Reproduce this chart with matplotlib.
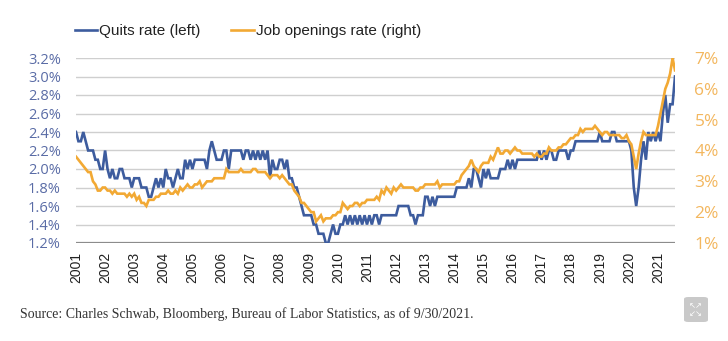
import numpy as np
import matplotlib.pyplot as plt
from matplotlib.patches import FancyBboxPatch


# --------------------------------------------------
# Data (monthly, Jan 2001 - Aug 2021)
# --------------------------------------------------

quits_rate = [
    2.4, 2.3, 2.3, 2.4, 2.3, 2.2, 2.2, 2.2, 2.1, 2.1, 2.0, 2.0,  # 2001
    2.2, 2.0, 1.9, 2.0, 1.9, 1.9, 2.0, 2.0, 1.9, 1.9, 1.9, 1.8,  # 2002
    1.9, 1.9, 1.9, 1.8, 1.8, 1.8, 1.7, 1.7, 1.8, 1.9, 1.8, 1.9,  # 2003
    1.8, 2.0, 1.9, 1.9, 1.8, 1.9, 2.0, 1.9, 1.9, 2.1, 2.0, 2.1,  # 2004
    2.0, 2.1, 2.1, 2.1, 2.1, 2.1, 2.0, 2.2, 2.3, 2.2, 2.1, 2.1,  # 2005
    2.1, 2.2, 2.2, 2.0, 2.2, 2.2, 2.2, 2.2, 2.2, 2.1, 2.2, 2.2,  # 2006
    2.1, 2.2, 2.1, 2.2, 2.1, 2.2, 2.1, 2.2, 1.9, 2.1, 2.0, 2.0,  # 2007
    2.1, 2.1, 2.0, 2.1, 1.9, 1.9, 1.8, 1.8, 1.7, 1.6, 1.5, 1.5,  # 2008
    1.5, 1.5, 1.4, 1.4, 1.3, 1.3, 1.3, 1.2, 1.2, 1.3, 1.4, 1.3,  # 2009
    1.3, 1.4, 1.4, 1.5, 1.4, 1.5, 1.4, 1.5, 1.4, 1.5, 1.4, 1.5,  # 2010
    1.4, 1.5, 1.4, 1.5, 1.5, 1.4, 1.5, 1.5, 1.5, 1.5, 1.5, 1.5,  # 2011
    1.5, 1.6, 1.6, 1.6, 1.6, 1.6, 1.5, 1.5, 1.4, 1.5, 1.5, 1.5,  # 2012
    1.7, 1.7, 1.6, 1.7, 1.6, 1.7, 1.7, 1.7, 1.7, 1.7, 1.7, 1.7,  # 2013
    1.7, 1.8, 1.8, 1.8, 1.8, 1.8, 1.9, 1.8, 2.0, 2.0, 1.9, 1.8,  # 2014
    2.0, 1.9, 2.0, 1.9, 1.9, 1.9, 1.9, 2.0, 2.0, 2.0, 2.1, 2.0,  # 2015
    2.1, 2.0, 2.1, 2.1, 2.1, 2.1, 2.1, 2.1, 2.1, 2.1, 2.1, 2.2,  # 2016
    2.1, 2.2, 2.1, 2.2, 2.2, 2.1, 2.1, 2.2, 2.2, 2.2, 2.2, 2.1,  # 2017
    2.2, 2.2, 2.3, 2.3, 2.3, 2.3, 2.3, 2.3, 2.3, 2.3, 2.3, 2.3,  # 2018
    2.4, 2.3, 2.3, 2.3, 2.3, 2.4, 2.4, 2.3, 2.3, 2.3, 2.3, 2.3,  # 2019
    2.3, 2.2, 1.8, 1.6, 1.8, 2.1, 2.3, 2.1, 2.4, 2.3, 2.4, 2.3,  # 2020
    2.4, 2.3, 2.6, 2.8, 2.5, 2.7, 2.7, 3.0,                      # 2021
]

openings_rate = [
    3.8, 3.7, 3.6, 3.5, 3.4, 3.3, 3.3, 3.0, 2.9, 2.7, 2.7, 2.8,  # 2001
    2.8, 2.7, 2.7, 2.6, 2.7, 2.6, 2.6, 2.6, 2.6, 2.5, 2.6, 2.5,  # 2002
    2.6, 2.4, 2.5, 2.3, 2.3, 2.2, 2.4, 2.4, 2.4, 2.5, 2.5, 2.6,  # 2003
    2.6, 2.6, 2.7, 2.6, 2.6, 2.7, 2.6, 2.8, 2.7, 2.8, 2.9, 2.8,  # 2004
    2.8, 2.9, 2.9, 3.0, 2.8, 2.9, 3.0, 3.0, 3.0, 3.1, 3.1, 3.1,  # 2005
    3.1, 3.1, 3.4, 3.3, 3.3, 3.3, 3.3, 3.3, 3.4, 3.3, 3.3, 3.3,  # 2006
    3.3, 3.4, 3.4, 3.3, 3.3, 3.3, 3.3, 3.2, 3.1, 3.2, 3.2, 3.2,  # 2007
    3.1, 3.2, 3.1, 3.0, 2.9, 2.9, 2.7, 2.6, 2.5, 2.3, 2.3, 2.2,  # 2008
    2.1, 2.0, 2.0, 1.7, 1.8, 1.9, 1.7, 1.8, 1.8, 1.8, 1.9, 1.9,  # 2009
    2.0, 2.0, 2.3, 2.2, 2.1, 2.2, 2.2, 2.3, 2.3, 2.2, 2.3, 2.3,  # 2010
    2.4, 2.4, 2.4, 2.4, 2.5, 2.4, 2.7, 2.6, 2.8, 2.7, 2.6, 2.8,  # 2011
    2.7, 2.8, 2.9, 2.8, 2.8, 2.8, 2.8, 2.8, 2.7, 2.7, 2.8, 2.8,  # 2012
    2.9, 2.9, 2.9, 2.9, 2.9, 3.0, 2.8, 2.9, 2.9, 2.9, 2.9, 2.9,  # 2013
    2.9, 3.0, 3.0, 3.2, 3.3, 3.4, 3.5, 3.7, 3.5, 3.4, 3.3, 3.5,  # 2014
    3.6, 3.6, 3.6, 3.8, 3.7, 3.9, 4.1, 3.9, 3.9, 4.0, 4.0, 3.9,  # 2015
    4.0, 4.1, 4.0, 4.0, 3.9, 3.9, 3.9, 3.9, 3.9, 3.8, 3.9, 3.8,  # 2016
    3.8, 3.9, 3.9, 4.1, 4.0, 4.0, 4.0, 4.1, 4.1, 4.2, 4.2, 4.3,  # 2017
    4.4, 4.4, 4.5, 4.5, 4.7, 4.6, 4.7, 4.7, 4.7, 4.7, 4.8, 4.7,  # 2018
    4.6, 4.5, 4.6, 4.6, 4.5, 4.5, 4.5, 4.5, 4.5, 4.4, 4.4, 4.5,  # 2019
    4.3, 4.2, 3.8, 3.4, 3.9, 4.3, 4.6, 4.5, 4.5, 4.5, 4.5, 4.5,  # 2020
    4.8, 5.2, 5.6, 6.0, 6.2, 6.5, 7.0, 6.6,                      # 2021
]

start_year = 2001
years = list(range(2001, 2022))
left_ticks = [1.2, 1.4, 1.6, 1.8, 2.0, 2.2, 2.4, 2.6, 2.8, 3.0, 3.2]
right_ticks = [1, 2, 3, 4, 5, 6, 7]

source_text = "Source: Charles Schwab, Bloomberg, Bureau of Labor Statistics, as of 9/30/2021."

blue = "#3d5c9e"
orange = "#f2a934"


# --------------------------------------------------
# Plot
# --------------------------------------------------

plt.rcParams["font.family"] = ["Liberation Sans", "DejaVu Sans"]

t = start_year + np.arange(len(quits_rate)) / 12.0

fig = plt.figure(figsize=(7.28, 3.41), dpi=100)
ax = fig.add_axes([76 / 728, 1 - 243 / 341, 599 / 728, 185 / 341])
ax2 = ax.twinx()

ax.plot(t, quits_rate, color=blue, lw=1.9, label="Quits rate (left)", solid_joinstyle="miter")
ax2.plot(t, openings_rate, color=orange, lw=1.9, label="Job openings rate (right)", solid_joinstyle="miter")

ax.set_xlim(t[0], t[-1])
ax.set_ylim(1.2, 3.2)
ax2.set_ylim(1, 7)

ax.set_yticks(left_ticks)
ax.set_yticklabels([f"{v:.1f}%" for v in left_ticks], fontfamily="Open Sans", fontsize=10.5, color="#5a6ca6")
ax2.set_yticks(right_ticks)
ax2.set_yticklabels([f"{v}%" for v in right_ticks], fontfamily="Open Sans", fontsize=12.5, color="#f3b75f")

ax.set_xticks(years)
ax.set_xticklabels([str(y) for y in years], rotation=90, fontsize=10, color="#222222")

ax.tick_params(axis="y", length=0, pad=11)
ax2.tick_params(axis="y", length=0, pad=14)
ax.tick_params(axis="x", length=0, pad=6.5)

ax.grid(axis="y", color="#cfcfcf", lw=1.0)
ax.set_axisbelow(True)

for a in (ax, ax2):
    for side in ("left", "right", "top", "bottom"):
        a.spines[side].set_visible(False)
ax.axhline(1.2, color="#8c8c8c", lw=1.6, zorder=1)

# legend above the plot
h1, l1 = ax.get_legend_handles_labels()
h2, l2 = ax2.get_legend_handles_labels()
fig.legend(
    h1 + h2,
    l1 + l2,
    loc="center left",
    bbox_to_anchor=(75 / 728, 1 - 31 / 341),
    ncol=2,
    frameon=False,
    fontsize=11,
    handlelength=1.45,
    handletextpad=0.15,
    columnspacing=2.0,
    borderpad=0,
    borderaxespad=0,
    labelcolor="#222222",
)

fig.text(20 / 728, 1 - 314 / 341, source_text, fontfamily="Liberation Serif",
         fontsize=10, color="#333333", va="center", ha="left")

# expand icon in the bottom right corner
icon = FancyBboxPatch((684 / 728, 1 - 322 / 341), 24 / 728, 25 / 341,
                      boxstyle="round,pad=0,rounding_size=0.006",
                      transform=fig.transFigure, facecolor="#c9c9c9", edgecolor="none")
fig.patches.append(icon)
fig.text(696 / 728, 1 - 309.5 / 341, "\u2196\u2197\n\u2199\u2198", fontfamily="DejaVu Sans",
         fontsize=6, color="white", ha="center", va="center", linespacing=0.9)

fig.savefig("out.png", dpi=100)
